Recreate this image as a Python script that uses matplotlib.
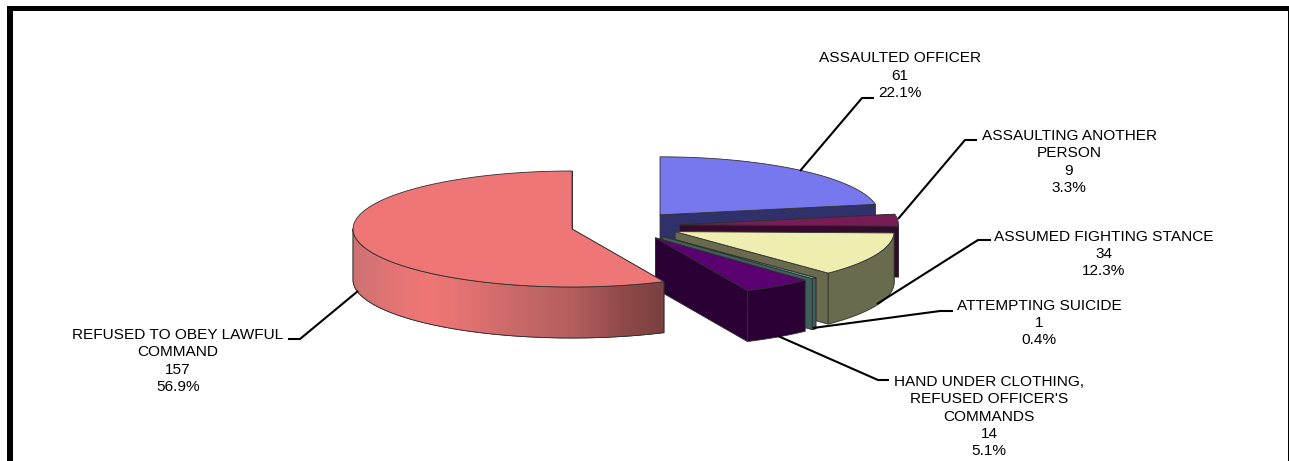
import numpy as np
import matplotlib
matplotlib.use("Agg")
import matplotlib.pyplot as plt
from matplotlib.colors import LinearSegmentedColormap
from matplotlib.patches import Polygon

plt.rcParams["font.family"] = ["Liberation Sans", "DejaVu Sans"]

categories = ["ASSAULTED OFFICER", "ASSAULTING ANOTHER\nPERSON", "ASSUMED FIGHTING STANCE",
              "ATTEMPTING SUICIDE", "HAND UNDER CLOTHING,\nREFUSED OFFICER'S\nCOMMANDS",
              "REFUSED TO OBEY LAWFUL\nCOMMAND"]
counts = [61, 9, 34, 1, 14, 157]
percents = ["22.1%", "3.3%", "12.3%", "0.4%", "5.1%", "56.9%"]

top_colors = ["#7878ee", "#781c58", "#eeeeb0", "#6fa3a3", "#5a0070", "#ee7676"]
wall_colors = ["#30306a", "#360a2c", "#6a6a4e", "#3f5f5c", "#2a0035", "#ee7676"]

# pie geometry in pixels
CX, CY = 625.2, 225.9
RX, RY = 219.0, 58.0
DEPTH = 51.0
EXPLODE = 0.2485

label_pos = [(900, 75.5), (1069, 162), (1104, 254), (1039, 323), (989, 416.5), (178, 361)]
leaders = [
    [(800, 171), (862, 98), (874, 98)],
    [(898, 219), (965, 140), (977, 140)],
    [(877, 304), (978, 240), (991, 240)],
    [(813, 328), (940, 311), (953, 311)],
    [(778, 336), (878, 380), (889, 380)],
    [(358, 291), (300, 339), (288, 339)],
]


def rim(cx, cy, a):
    # a is clockwise from 12 o'clock, in degrees
    r = np.radians(a)
    return np.column_stack([cx + RX * np.sin(r), cy - RY * np.cos(r)])


def draw_slice(ax, a0, a1, top, wall, z, shade=None):
    mid = np.radians((a0 + a1) / 2)
    cx = CX + EXPLODE * RX * np.sin(mid)
    cy = CY - EXPLODE * RY * np.cos(mid)
    edge = dict(edgecolor="#303030", linewidth=0.6, joinstyle="round")

    # the two cut faces, hidden by the top where they face away
    for a in (a0, a1):
        p = rim(cx, cy, np.array([a]))[0]
        quad = [(cx, cy), p, (p[0], p[1] + DEPTH), (cx, cy + DEPTH)]
        ax.add_patch(Polygon(quad, facecolor=wall, zorder=z, **edge))

    # outer face, only the part that looks toward the viewer
    lo, hi = max(a0, 90), min(a1, 270)
    if hi > lo:
        arc = rim(cx, cy, np.linspace(lo, hi, 120))
        outer = np.vstack([arc, arc[::-1] + [0, DEPTH]])
        face = Polygon(outer, facecolor=wall, zorder=z + 0.1, **edge)
        ax.add_patch(face)
        if shade is not None:
            x0, x1 = outer[:, 0].min(), outer[:, 0].max()
            y0, y1 = outer[:, 1].min(), outer[:, 1].max()
            im = ax.imshow(np.linspace(0, 1, 256)[None, :], cmap=shade, aspect="auto",
                           extent=(x0, x1, y1, y0), zorder=z + 0.15, interpolation="bilinear")
            im.set_clip_path(face)
            ax.add_patch(Polygon(outer, fill=False, zorder=z + 0.2, **edge))

    # top face
    pts = np.vstack([[(cx, cy)], rim(cx, cy, np.linspace(a0, a1, 160))])
    ax.add_patch(Polygon(pts, facecolor=top, zorder=z + 0.3, **edge))


fig = plt.figure(figsize=(12.89, 4.61), dpi=100)
ax = fig.add_axes([0, 0, 1, 1])
ax.set_xlim(0, 1289)
ax.set_ylim(461, 0)
ax.axis("off")

# frame of the chart area, cut off at the bottom
ax.fill([7, 1289, 1289, 7], [6, 6, 11.5, 11.5], color="black", lw=0, zorder=1)
ax.fill([7, 13, 13, 7], [6, 6, 461, 461], color="black", lw=0, zorder=1)
ax.fill([1287.5, 1288.5, 1288.5, 1287.5], [6, 6, 461, 461], color="black", lw=0, zorder=1)

red_shade = LinearSegmentedColormap.from_list(
    "red_shade", [(0, "#cc7272"), (0.14, "#e67474"), (0.24, "#ee7676"), (0.36, "#e47272"),
                  (0.5, "#cc6a6a"), (0.71, "#b55e5e"), (0.87, "#904a4a"), (1, "#7a4040")])

fractions = np.array(counts) / sum(counts)
edges = np.concatenate([[0], np.cumsum(fractions) * 360])

for i in range(len(counts)):
    shade = red_shade if i == 5 else None
    draw_slice(ax, edges[i], edges[i + 1], top_colors[i], wall_colors[i], 2 + i, shade)

for i, line in enumerate(leaders):
    xs, ys = zip(*line)
    ax.plot(xs, ys, color="black", lw=1.5, zorder=10, solid_capstyle="butt")

for i, cat in enumerate(categories):
    txt = f"{cat}\n{counts[i]}\n{percents[i]}"
    ax.text(label_pos[i][0], label_pos[i][1], txt, ha="center", va="center",
            fontsize=11.1, linespacing=1.31, color="black", zorder=11)

fig.savefig("out.png", dpi=100)
